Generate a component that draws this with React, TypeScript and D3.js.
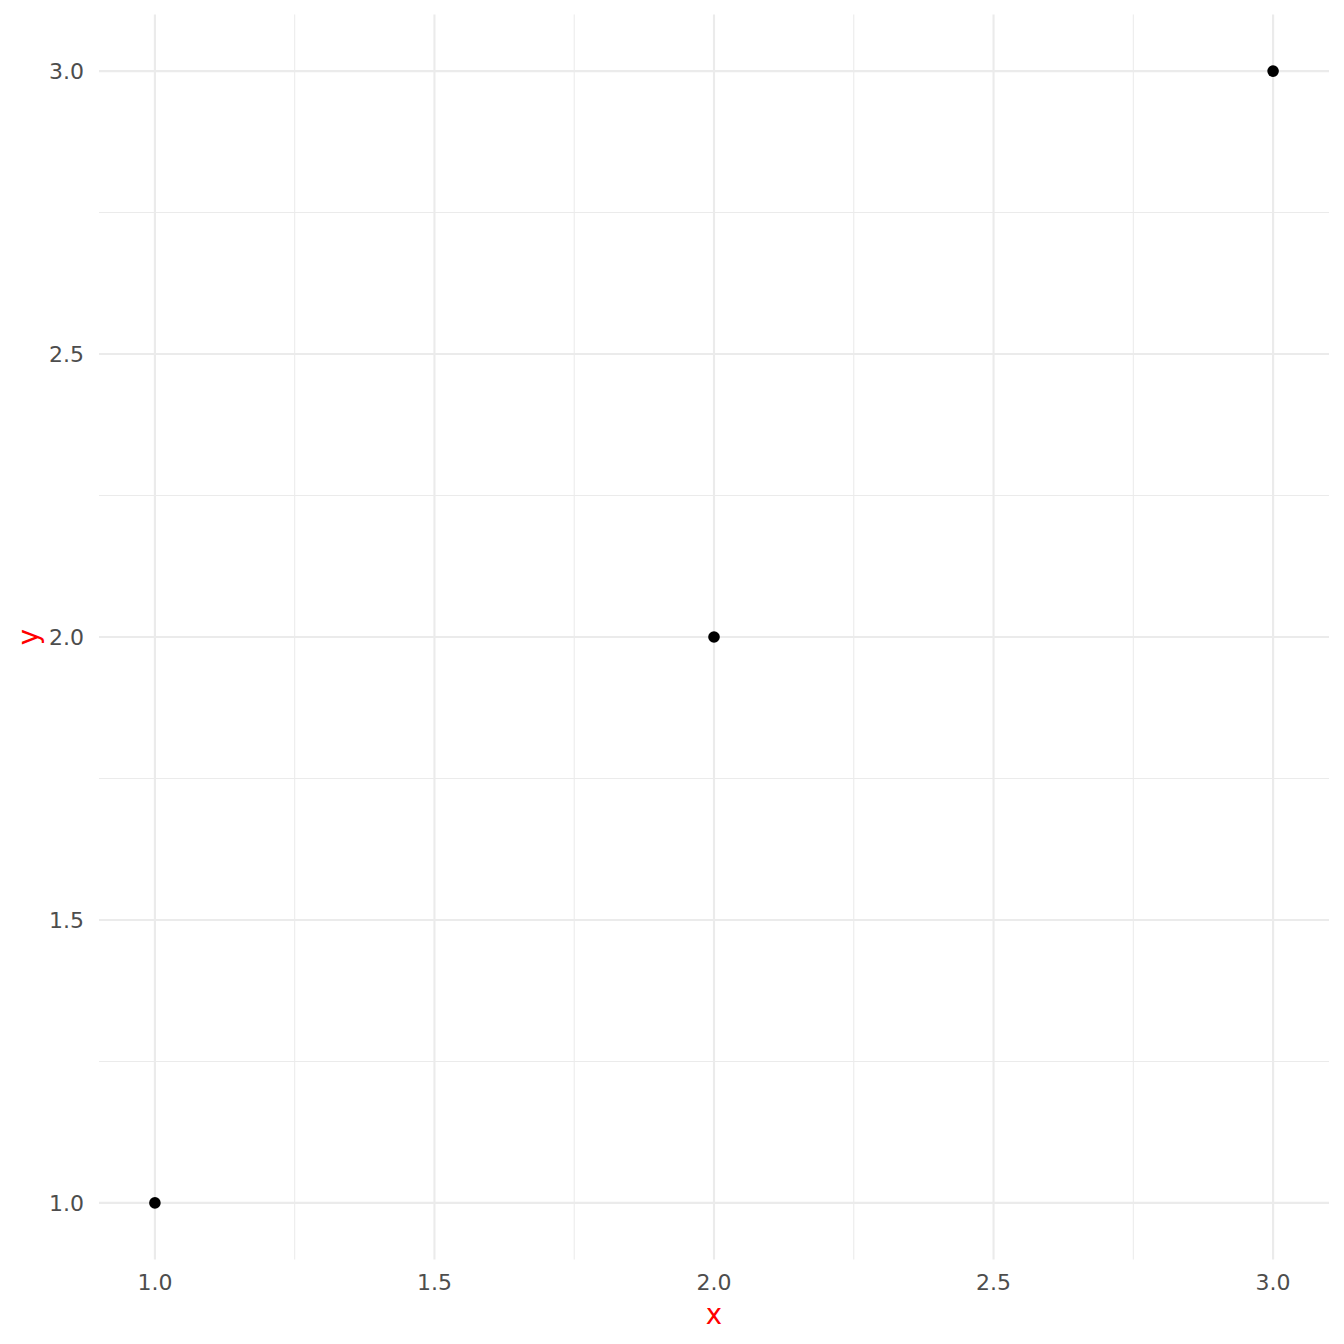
import * as React from "react";
import * as d3 from "d3";

const xValues = [1, 2, 3];
const yValues = [1, 2, 3];
const xTicks = [1.0, 1.5, 2.0, 2.5, 3.0];
const yTicks = [1.0, 1.5, 2.0, 2.5, 3.0];
const xMinor = [1.25, 1.75, 2.25, 2.75];
const yMinor = [1.25, 1.75, 2.25, 2.75];

const W = 1344;
const H = 1344;
const panel = { left: 99, right: 1329, top: 14.5, bottom: 1259.5 };
const font = "DejaVu Sans, sans-serif";

export default function App() {
    const xScale = d3.scaleLinear().domain([0.9, 3.1]).range([panel.left, panel.right]);
    const yScale = d3.scaleLinear().domain([0.9, 3.1]).range([panel.bottom, panel.top]);
    const fmt = d3.format(".1f");

    return <svg width={W} height={H} style={{ position: "absolute", left: 0, top: 0, background: "#fff" }}>
        <rect x={0} y={0} width={W} height={H} fill="#fff" />
        {/* minor grid */}
        {xMinor.map(v => <line key={"xm" + v} x1={xScale(v)} x2={xScale(v)} y1={panel.top} y2={panel.bottom} stroke="#EBEBEB" strokeWidth={1.07} />)}
        {yMinor.map(v => <line key={"ym" + v} y1={yScale(v)} y2={yScale(v)} x1={panel.left} x2={panel.right} stroke="#EBEBEB" strokeWidth={1.07} />)}
        {/* major grid */}
        {xTicks.map(v => <line key={"xM" + v} x1={xScale(v)} x2={xScale(v)} y1={panel.top} y2={panel.bottom} stroke="#EBEBEB" strokeWidth={2.13} />)}
        {yTicks.map(v => <line key={"yM" + v} y1={yScale(v)} y2={yScale(v)} x1={panel.left} x2={panel.right} stroke="#EBEBEB" strokeWidth={2.13} />)}

        {xValues.map((x, i) => <circle key={i} cx={xScale(x)} cy={yScale(yValues[i])} r={5.8} fill="#000" />)}

        {xTicks.map(v => <text key={"xt" + v} x={xScale(v)} y={1290} textAnchor="middle" fontFamily={font} fontSize={22} fill="#4D4D4D">{fmt(v)}</text>)}
        {yTicks.map(v => <text key={"yt" + v} x={84} y={yScale(v)} dy="0.36em" textAnchor="end" fontFamily={font} fontSize={22} fill="#4D4D4D">{fmt(v)}</text>)}

        <text x={(panel.left + panel.right) / 2} y={1324} textAnchor="middle" fontFamily={font} fontSize={27.5} fill="red">x</text>
        <text transform={`translate(38,${(panel.top + panel.bottom) / 2}) rotate(-90)`} textAnchor="middle" fontFamily={font} fontSize={27.5} fill="red">y</text>
    </svg>;
}
